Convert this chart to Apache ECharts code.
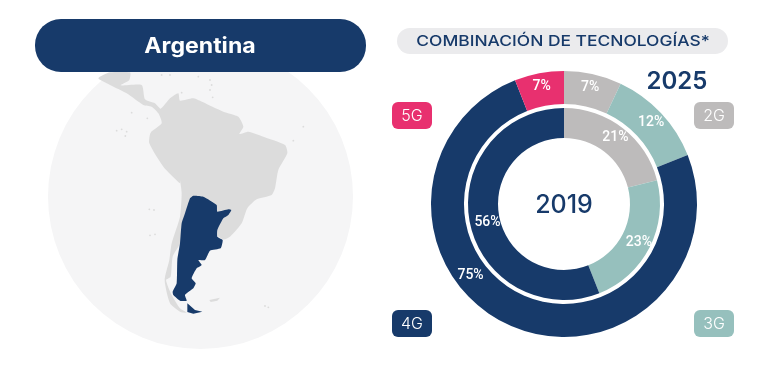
<!DOCTYPE html>
<html>
<head>
<meta charset="utf-8">
<script src="https://cdn.jsdelivr.net/npm/echarts@6/dist/echarts.min.js"></script>
<style>
  html, body { margin: 0; padding: 0; background: #fff; }
  #chart { width: 757px; height: 376px; }
</style>
</head>
<body>
<div id="chart"></div>
<script>
const technologies = ["2G", "3G", "4G", "5G"];
const colors = ["#bdbbbb", "#96c0bd", "#173a6a", "#e8306f"];
// arcs as measured in the picture; the printed 5G label is rounded differently
const shares2025 = [7, 12, 75, 6];
const labels2025 = ["7%", "12%", "75%", "7%"];
const shares2019 = [21, 23, 56, 0];
const labels2019 = ["21%", "23%", "56%", ""];

const navy = "#173a6a";
const sansFont = "Inter, 'Open Sans', sans-serif";
const labelFont = "Roboto, 'Open Sans', sans-serif";

const fromTop = (pts) => pts.map(([x, y]) => [30 + x / 3, 10 + y / 3]);
const fromBottom = (pts) => pts.map(([x, y]) => [130 + x / 3, 180 + y / 3]);

const continent = [
  ...fromTop([
    [205, 205], [240, 187], [300, 187], [298, 210], [272, 226], [335, 225], [345, 268], [375, 280],
    [392, 296], [420, 265], [445, 250], [450, 272], [490, 265], [530, 282], [580, 305], [625, 320],
    [640, 350], [628, 372], [655, 365], [700, 380], [765, 405], [772, 430], [745, 480], [735, 535],
  ]),
  ...fromBottom([
    [425, 45], [380, 58], [352, 85], [335, 130], [300, 170], [278, 178], [200, 120],
    [160, 120], [150, 190], [128, 230], [122, 290], [108, 300], [125, 345], [150, 385], [170, 398],
    [150, 395], [120, 370], [104, 300], [118, 240], [125, 190], [150, 110], [155, 40], [150, 0],
  ]),
  ...fromTop([
    [450, 520], [400, 470], [358, 400], [362, 368], [395, 340], [385, 310], [365, 290], [340, 285],
    [290, 250], [240, 225],
  ]),
];
const argentina = fromBottom([
  [190, 47], [220, 50], [260, 75], [262, 95], [295, 88], [304, 90], [295, 105], [280, 115],
  [262, 150], [262, 170], [278, 180], [272, 205], [240, 212], [225, 240], [205, 240], [215, 255],
  [200, 265], [185, 295], [197, 310], [190, 325], [165, 345], [170, 362], [150, 362], [130, 345],
  [128, 335], [140, 310], [142, 240], [150, 190], [155, 130], [165, 100], [180, 55],
]);
const fuego = fromBottom([[172, 370], [195, 390], [217, 395], [190, 401], [172, 396]]);
const malvinas = fromBottom([[238, 360], [270, 353], [262, 362], [242, 366]]);
const islands = [
  ...fromTop([
    [305, 308], [352, 325], [260, 362], [275, 358], [290, 365], [286, 378], [820, 350], [790, 392],
    [395, 195], [420, 195], [505, 200], [540, 210], [545, 225], [540, 240], [548, 262], [455, 248],
  ]),
  ...fromBottom([[58, 88], [72, 90], [60, 166], [75, 163], [405, 378], [415, 382]]),
];

const chipPlaces = [
  { x: 694, y: 102 }, // 2G
  { x: 694, y: 310 }, // 3G
  { x: 392, y: 310 }, // 4G
  { x: 392, y: 102 }, // 5G
];

// the original face is wider than anything installed, hence the stretch
const centerText = (text, x, y, font, fill, stretch) => ({
  type: "text",
  z: 5,
  x,
  y,
  scaleX: stretch || 1,
  style: { text, fill, font, textAlign: "center", textVerticalAlign: "middle" },
});

const ringLabel = {
  show: true,
  position: "inside",
  color: "#fff",
  fontFamily: labelFont,
  fontWeight: 500,
  fontSize: 14,
  formatter: (p) => p.data.text,
};

const ringData = (shares, labels) =>
  technologies
    .map((name, i) => ({
      name,
      value: shares[i],
      text: labels[i],
      itemStyle: { color: colors[i] },
    }))
    .filter((d) => d.value > 0);

const data2025 = ringData(shares2025, labels2025);
// the 75% label sits high on the arc instead of mid way
data2025[2].label = { offset: [-46, -38] };
const data2019 = ringData(shares2019, labels2019);
data2019[2].label = { offset: [6, 3] };

const option = {
  animation: false,
  graphic: [
    { type: "circle", z: 1, shape: { cx: 200.5, cy: 196.5, r: 152.5 }, style: { fill: "#f5f5f6" } },
    { type: "polygon", z: 2, shape: { points: continent, smooth: 0.2 }, style: { fill: "#dcdcdc" } },
    { type: "polygon", z: 2, shape: { points: malvinas }, style: { fill: "#dcdcdc" } },
    ...islands.map(([cx, cy]) => ({
      type: "circle",
      z: 2,
      shape: { cx, cy, r: 0.9 },
      style: { fill: "#dcdcdc" },
    })),
    { type: "polygon", z: 3, shape: { points: argentina, smooth: 0.15 }, style: { fill: navy } },
    { type: "polygon", z: 3, shape: { points: fuego }, style: { fill: navy } },
    { type: "rect", z: 4, shape: { x: 35, y: 19, width: 331, height: 53, r: 26 }, style: { fill: navy } },
    centerText("Argentina", 200, 47, "700 21px " + sansFont, "#fff", 1.1),
    { type: "rect", z: 4, shape: { x: 397, y: 28, width: 331, height: 26, r: 13 }, style: { fill: "#ebebed" } },
    centerText("COMBINACIÓN DE TECNOLOGÍAS*", 563, 41, "500 15px " + sansFont, navy, 1.16),
    centerText("2025", 677, 82, "600 24px " + sansFont, navy),
    centerText("2019", 564, 205, "500 25px " + sansFont, navy),
    ...technologies.flatMap((name, i) => [
      {
        type: "rect",
        z: 4,
        shape: { x: chipPlaces[i].x, y: chipPlaces[i].y, width: 40, height: 27, r: 6 },
        style: { fill: colors[i] },
      },
      centerText(name, chipPlaces[i].x + 20, chipPlaces[i].y + 14, "300 16px " + sansFont, "#fff"),
    ]),
  ],
  series: [
    {
      name: "2025",
      type: "pie",
      center: [564, 204],
      radius: [100, 133],
      startAngle: 90,
      clockwise: true,
      silent: true,
      label: ringLabel,
      labelLine: { show: false },
      data: data2025,
    },
    {
      name: "2019",
      type: "pie",
      center: [564, 204],
      radius: [66, 96],
      startAngle: 90,
      clockwise: true,
      silent: true,
      label: ringLabel,
      labelLine: { show: false },
      data: data2019,
    },
  ],
};

const myChart = echarts.init(document.getElementById("chart"));
myChart.setOption(option);
</script>
</body>
</html>
